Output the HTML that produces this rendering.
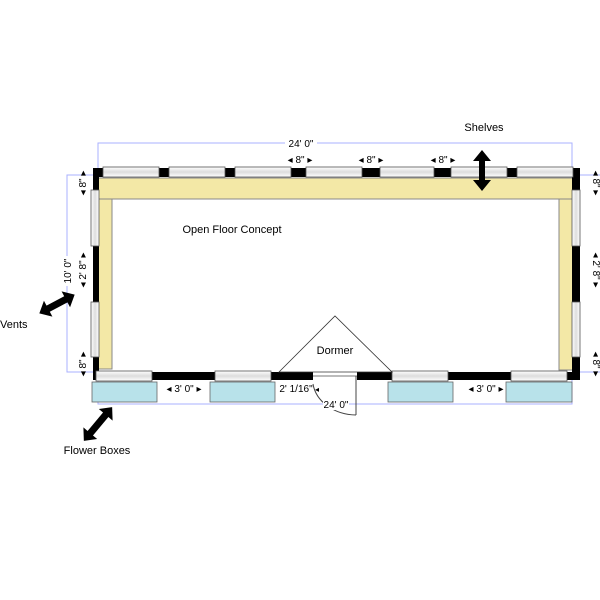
<!DOCTYPE html>
<html><head><meta charset="utf-8"><style>html,body{margin:0;padding:0;background:#fff}svg{display:block}text{font-family:"Liberation Sans",sans-serif;fill:#000}</style></head><body>
<svg width="600" height="600" viewBox="0 0 600 600" xmlns="http://www.w3.org/2000/svg">
<defs>
<linearGradient id="wg" x1="0" y1="0" x2="0" y2="1"><stop offset="0" stop-color="#fff"/><stop offset="0.5" stop-color="#ddd"/><stop offset="1" stop-color="#fff"/></linearGradient>
<linearGradient id="wv" x1="0" y1="0" x2="1" y2="0"><stop offset="0" stop-color="#fff"/><stop offset="0.5" stop-color="#ddd"/><stop offset="1" stop-color="#fff"/></linearGradient>
</defs>
<g stroke="#aab0ff" stroke-width="1" fill="none">
<polyline points="98,168 98,143 572,143 572,168"/>
<polyline points="93,175 67,175 67,372 93,372"/>
<polyline points="580,175 600,175"/><polyline points="580,372 600,372"/>
<polyline points="98,380 98,404 572,404 572,380"/>
</g>
<g fill="#f3e8a6" stroke="#888" stroke-width="1">
<rect x="98" y="178" width="475" height="21"/>
<rect x="98" y="199" width="14" height="170"/>
<rect x="559" y="199" width="14" height="171"/>
</g>
<g fill="#000">
<rect x="93" y="168" width="484" height="9"/>
<rect x="93" y="168" width="6" height="212"/>
<rect x="572" y="168" width="8" height="212"/>
<rect x="93" y="372" width="220" height="8"/>
<rect x="357" y="372" width="223" height="8"/>
</g>
<g fill="url(#wg)" stroke="#555" stroke-width="0.8">
<rect x="103" y="167" width="56" height="10"/><rect x="169" y="167" width="56" height="10"/>
<rect x="235" y="167" width="56" height="10"/><rect x="306" y="167" width="56" height="10"/>
<rect x="380" y="167" width="54" height="10"/><rect x="451" y="167" width="56" height="10"/>
<rect x="517" y="167" width="56" height="10"/>
<rect x="96" y="371" width="56" height="10"/><rect x="215" y="371" width="56" height="10"/>
<rect x="392" y="371" width="56" height="10"/><rect x="511" y="371" width="56" height="10"/>
</g>
<g fill="url(#wv)" stroke="#555" stroke-width="0.8">
<rect x="91" y="190" width="8" height="56"/><rect x="91" y="302" width="8" height="55"/>
<rect x="572" y="190" width="8" height="56"/><rect x="572" y="302" width="8" height="55"/>
</g>
<line x1="313" y1="376" x2="357" y2="376" stroke="#777" stroke-width="1"/>
<line x1="356" y1="376" x2="356" y2="415" stroke="#444" stroke-width="1"/>
<path d="M313,384 A44,36 0 0 0 356,415" fill="none" stroke="#444" stroke-width="1"/>
<polygon points="279,372 335,316 392,372" fill="none" stroke="#333" stroke-width="0.8"/>
<g fill="#b8e2ea" stroke="#666" stroke-width="0.8">
<rect x="92" y="382" width="65" height="20"/><rect x="210" y="382" width="65" height="20"/>
<rect x="388" y="382" width="65" height="20"/><rect x="506" y="382" width="66" height="20"/>
</g>
<g font-size="10" text-anchor="middle">
<rect x="285" y="137" width="32" height="12" fill="#fff"/>
<text x="301" y="147">24' 0"</text>
<text x="300" y="163">◂ 8" ▸</text>
<text x="371" y="163">◂ 8" ▸</text>
<text x="443" y="163">◂ 8" ▸</text>
<text x="184" y="392">◂ 3' 0" ▸</text>
<text x="486" y="392">◂ 3' 0" ▸</text>
<text x="296" y="392">2' 1/16"</text>
<text x="317" y="392" font-size="8">◂</text>
<rect x="323" y="398" width="26" height="12" fill="#fff"/>
<text x="336" y="408">24' 0"</text>
<rect x="61" y="256" width="12" height="30" fill="#fff"/>
<text transform="translate(71,271) rotate(-90)">10' 0"</text>
<text transform="translate(86,183) rotate(-90)">◂ 8" ▸</text>
<text transform="translate(86,270) rotate(-90)">◂ 2' 8" ▸</text>
<text transform="translate(86,364) rotate(-90)">◂ 8" ▸</text>
<text transform="translate(593,183) rotate(90)">◂ 8" ▸</text>
<text transform="translate(593,270) rotate(90)">◂ 2' 8" ▸</text>
<text transform="translate(593,364) rotate(90)">◂ 8" ▸</text>
</g>
<g font-size="11">
<text x="484" y="131" text-anchor="middle">Shelves</text>
<text x="232" y="233" text-anchor="middle">Open Floor Concept</text>
<text x="335" y="354" text-anchor="middle">Dormer</text>
<text x="0" y="328">Vents</text>
<text x="97" y="454" text-anchor="middle">Flower Boxes</text>
</g>
<g fill="#000">
<polygon points="482,150 491,161 485,161 485,180 491,180 482,191 473,180 479,180 479,161 473,161"/>
<g transform="translate(57,304) rotate(-28)"><polygon points="-20,0 -10,-9 -10,-3.5 10,-3.5 10,-9 20,0 10,9 10,3.5 -10,3.5 -10,9"/></g>
<g transform="translate(98,424) rotate(-50)"><polygon points="-22,0 -12,-9 -12,-3.5 12,-3.5 12,-9 22,0 12,9 12,3.5 -12,3.5 -12,9"/></g>
</g>
</svg>
</body></html>
